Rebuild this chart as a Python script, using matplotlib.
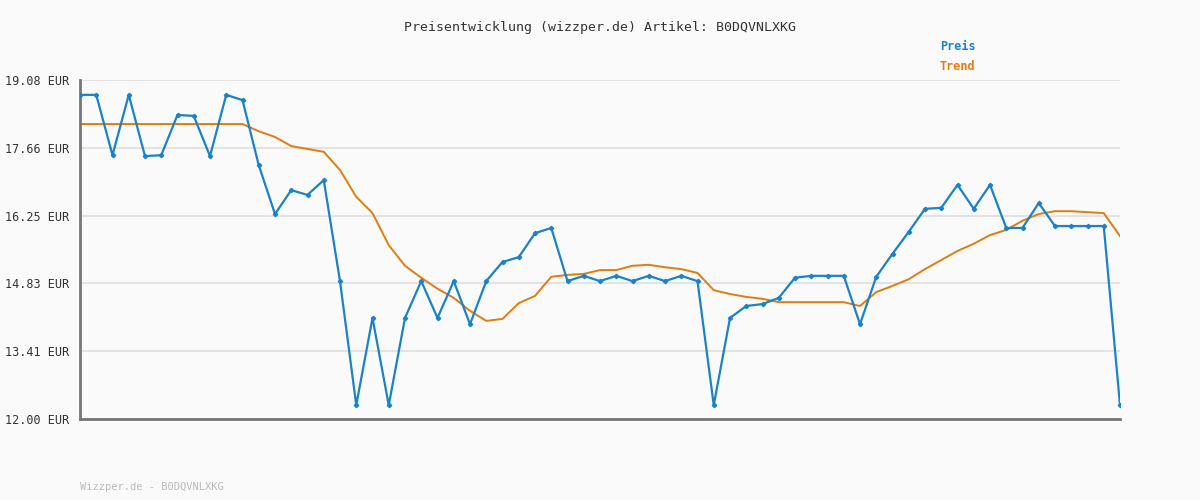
import matplotlib.pyplot as plt

preis = [18.77, 18.77, 17.51, 18.77, 17.49, 17.51, 18.35, 18.33, 17.49, 18.77,
         18.66, 17.30, 16.28, 16.78, 16.68, 16.99, 14.88, 12.29, 14.11, 12.29,
         14.11, 14.88, 14.11, 14.88, 13.98, 14.88, 15.28, 15.38, 15.88, 15.99,
         14.88, 14.99, 14.88, 14.99, 14.88, 14.99, 14.88, 14.99, 14.88, 12.29,
         14.11, 14.36, 14.40, 14.53, 14.95, 14.99, 14.99, 14.99, 13.98, 14.97,
         15.45, 15.91, 16.39, 16.41, 16.89, 16.39, 16.89, 15.99, 15.99, 16.51,
         16.03, 16.03, 16.03, 16.03, 12.29]
trend = [18.16] * 11 + [18.01, 17.89, 17.70, 17.64, 17.58, 17.20, 16.64, 16.30, 15.63,
         15.20, 14.95, 14.72, 14.53, 14.26, 14.05, 14.09, 14.42, 14.57, 14.97,
         15.01, 15.03, 15.11, 15.11, 15.20, 15.22, 15.17, 15.13, 15.05, 14.69,
         14.61, 14.55, 14.51, 14.44, 14.44, 14.44, 14.44, 14.44, 14.36, 14.65,
         14.78, 14.92, 15.13, 15.32, 15.51, 15.66, 15.84, 15.95, 16.14, 16.28,
         16.34, 16.34, 16.32, 16.30, 15.82]
yticks = [12.00, 13.41, 14.83, 16.25, 17.66, 19.08]

plt.rcParams['font.family'] = 'DejaVu Sans Mono'
fig = plt.figure(figsize=(12, 5), dpi=100, facecolor='#fafafa')
ax = fig.add_axes([80/1200, 81/500, 1040/1200, 339/500], facecolor='#fafafa')

x = range(len(preis))
ax.plot(x, trend, color='#e07c10', lw=1.4, zorder=2)
ax.plot(x, preis, color='#1a82c8', lw=1.6, marker='D', ms=2.2, zorder=3)

ax.set_xlim(0, len(preis) - 1)
ax.set_ylim(12.0, 19.08)
ax.set_yticks(yticks)
ax.set_yticklabels([f'{v:.2f} EUR' for v in yticks], fontsize=8.5, color='#333333')
ax.set_xticks([])
ax.tick_params(axis='y', length=0, pad=8)
ax.grid(axis='y', color='#e3e3e3', lw=1.5)
ax.set_axisbelow(True)
for s in ['top', 'right']:
    ax.spines[s].set_visible(False)
for s in ['left', 'bottom']:
    ax.spines[s].set_color('#777777')
    ax.spines[s].set_linewidth(2)

fig.text(0.5, 1 - 28/500, 'Preisentwicklung (wizzper.de) Artikel: B0DQVNLXKG',
         ha='center', va='center', fontsize=9.5, color='#333333')
fig.text(940/1200, 1 - 47/500, 'Preis', color='#1a82c8', fontsize=8.5, fontweight='bold', va='center')
fig.text(940/1200, 1 - 67/500, 'Trend', color='#e07c10', fontsize=8.5, fontweight='bold', va='center')
fig.text(80/1200, 1 - 487/500, 'Wizzper.de - B0DQVNLXKG', color='#bbbbbb', fontsize=7.5, va='center')

fig.savefig('out.png', facecolor=fig.get_facecolor())
